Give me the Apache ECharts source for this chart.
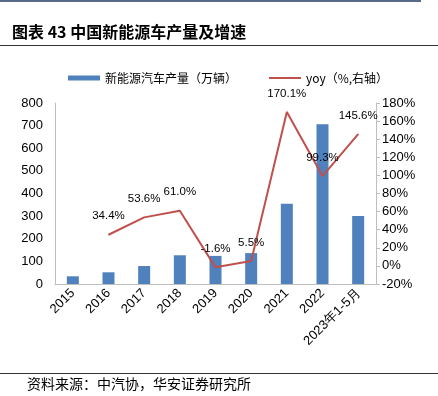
<!DOCTYPE html>
<html>
<head>
<meta charset="utf-8">
<script src="https://cdn.jsdelivr.net/npm/echarts@6/dist/echarts.min.js"></script>
<style>
  html, body { margin: 0; padding: 0; background: #fff; }
  #chart { width: 438px; height: 396px; }
</style>
</head>
<body>
<div id="chart"></div>
<script>
// 카테고리 / 데이터
const years = ['2015', '2016', '2017', '2018', '2019', '2020', '2021', '2022', '2023年1-5月'];
const output = [34.0, 51.7, 79.4, 127.0, 124.2, 136.6, 354.5, 705.8, 300.5];
const yoy = [null, 34.4, 53.6, 61.0, -1.6, 5.5, 170.1, 99.3, 145.6];
const leftTicks = [0, 800, 100];
const rightTicks = [-20, 180, 20];

const cjk = '"Noto Sans CJK SC", sans-serif';
const num = 'Arial, "Liberation Sans", sans-serif';

let myChart = echarts.init(document.getElementById('chart'), null, { renderer: 'canvas' });

const legendText = { fontFamily: cjk, fontSize: 12, color: '#000' };

let option = {
  animation: false,
  // 제목, 구분선, 출처
  graphic: [
    { type: 'line', shape: { x1: 0, y1: 1, x2: 421, y2: 1 }, style: { stroke: '#1f3864', lineWidth: 1.5 } },
    { type: 'text', left: 12, top: 24, style: { text: '图表 43 中国新能源车产量及增速', font: 'bold 16px ' + cjk, fill: '#000' } },
    { type: 'line', shape: { x1: 0, y1: 45.5, x2: 438, y2: 45.5 }, style: { stroke: '#333', lineWidth: 1 } },
    { type: 'line', shape: { x1: 0, y1: 373.5, x2: 438, y2: 373.5 }, style: { stroke: '#333', lineWidth: 1 } },
    { type: 'text', left: 27, top: 377, style: { text: '资料来源：中汽协，华安证券研究所', font: '14px ' + cjk, fill: '#000' } }
  ],
  // 범례 두 개 (아이콘 두께가 달라서)
  legend: [
    {
      top: 67, left: 63, itemWidth: 32, itemHeight: 5, itemGap: 5,
      textStyle: legendText,
      data: [{ name: '新能源汽车产量（万辆）', icon: 'rect' }]
    },
    {
      top: 67, left: 264, itemWidth: 32, itemHeight: 2,
      textStyle: legendText,
      data: [{ name: 'yoy（%,右轴）', icon: 'rect' }]
    }
  ],
  grid: { left: 55, right: 62, top: 103, bottom: 112 },
  xAxis: {
    type: 'category',
    data: years,
    axisLine: { lineStyle: { color: '#bfbfbf' } },
    axisTick: { show: false },
    axisLabel: { rotate: 45, interval: 0, fontFamily: num, fontSize: 13, color: '#000', margin: 7 }
  },
  yAxis: [
    {
      type: 'value',
      min: leftTicks[0], max: leftTicks[1], interval: leftTicks[2],
      axisLine: { show: true, lineStyle: { color: '#bfbfbf' } },
      axisTick: { show: false },
      splitLine: { show: false },
      axisLabel: { fontFamily: num, fontSize: 13, color: '#000', margin: 12 }
    },
    {
      type: 'value',
      min: rightTicks[0], max: rightTicks[1], interval: rightTicks[2],
      axisLine: { show: true, lineStyle: { color: '#bfbfbf' } },
      axisTick: { show: true, length: 4, lineStyle: { color: '#bfbfbf' } },
      splitLine: { show: false },
      axisLabel: { fontFamily: num, fontSize: 13, color: '#000', margin: 6, formatter: '{value}%' }
    }
  ],
  series: [
    {
      name: '新能源汽车产量（万辆）',
      type: 'bar',
      barWidth: 12,
      itemStyle: { color: '#4f81bd' },
      data: output
    },
    {
      name: 'yoy（%,右轴）',
      type: 'line',
      yAxisIndex: 1,
      symbol: 'circle',
      symbolSize: 1,
      showSymbol: true,
      z: 3,
      lineStyle: { color: '#c0504d', width: 2 },
      itemStyle: { color: '#c0504d' },
      label: {
        show: true,
        position: 'top',
        distance: 12,
        fontFamily: num,
        fontSize: 11.5,
        color: '#000',
        formatter: p => p.value.toFixed(1) + '%'
      },
      data: yoy
    }
  ]
};

myChart.setOption(option);
</script>
</body>
</html>
